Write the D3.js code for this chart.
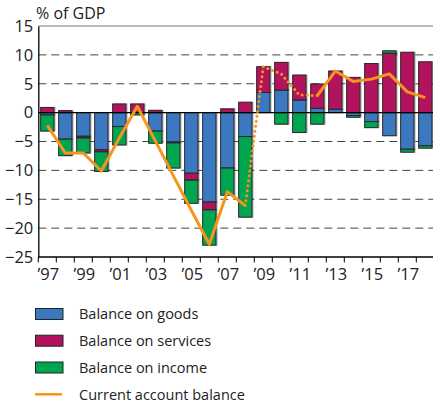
<!DOCTYPE html>
<html>
<head>
<meta charset="utf-8">
<script src="https://cdn.jsdelivr.net/npm/d3@7"></script>
<style>
  body { margin: 0; background: #fff; }
  svg { display: block; }
  text { font-family: "Open Sans", sans-serif; fill: #222; }
</style>
</head>
<body>
<svg id="chart" width="433" height="408"></svg>
<script>
const years = [1997,1998,1999,2000,2001,2002,2003,2004,2005,2006,2007,2008,2009,2010,2011,2012,2013,2014,2015,2016,2017,2018];
const goods    = [-0.4,-4.6,-4.1,-6.45,-2.4,0,-3.2,-5.1,-10.5,-15.5,-9.6,-4.15,3.5,3.9,2.2,0.75,0.6,-0.5,-1.55,-4.0,-6.35,-5.75];
const services = [0.9,0.35,-0.3,-0.35,1.5,1.5,0.4,-0.15,-1.2,-1.35,0.65,1.8,4.45,4.8,4.3,4.2,6.6,6.1,8.5,10.3,10.45,8.8];
const income   = [-2.8,-2.85,-2.6,-3.4,-3.2,-0.4,-2.1,-4.35,-4.0,-6.1,-4.7,-13.95,0,-2.0,-3.45,-2.0,0,-0.3,-1.05,0.4,-0.5,-0.4];
const currentAccount = [-2.2,-7.0,-7.0,-10.1,-4.4,1.1,-4.9,-10.9,-16.9,-22.8,-13.7,-16.1,7.95,6.7,3.05,2.95,7.2,5.4,5.8,6.7,3.6,2.6];
const dottedFrom = 2008, dottedTo = 2012;
const yTicks = [-25,-20,-15,-10,-5,0,5,10,15];
const xLabelYears = [1997,1999,2001,2003,2005,2007,2009,2011,2013,2015,2017];
const seriesNames = ["Balance on goods","Balance on services","Balance on income"];
const lineName = "Current account balance";
const yTitle = "% of GDP";

const colors = {goods:"#3a78c0", services:"#b3135c", income:"#00a550", line:"#f7941d"};
const keys = ["goods","services","income"];

const svg = d3.select("#chart");
const pLeft = 38.3, pRight = 434.3, pTop = 26, pBottom = 257;

const x = d3.scaleBand().domain(years).range([pLeft, pRight]).paddingInner(0.26).paddingOuter(0.13);
const y = d3.scaleLinear().domain([-25, 15]).range([pBottom, pTop]);

// gridlines
svg.append("g").selectAll("line").data(yTicks.filter(v => v !== 0 && v !== 15 && v !== -25)).join("line")
  .attr("x1", pLeft).attr("x2", 433).attr("y1", d => y(d)).attr("y2", d => y(d))
  .attr("stroke", "#444").attr("stroke-width", 1).attr("stroke-dasharray", "8,5");
svg.append("line").attr("x1", pLeft).attr("x2", 433).attr("y1", y(15)).attr("y2", y(15))
  .attr("stroke", "#777").attr("stroke-width", 1);

// stacked bars
const table = years.map((yr, i) => ({year: yr, goods: goods[i], services: services[i], income: income[i]}));
const stack = d3.stack().keys(keys).offset(d3.stackOffsetDiverging)(table);

const barG = svg.append("g");
stack.forEach(layer => {
  barG.append("g").selectAll("rect").data(layer).join("rect")
    .attr("x", d => x(d.data.year))
    .attr("width", x.bandwidth())
    .attr("y", d => y(Math.max(d[0], d[1])))
    .attr("height", d => Math.abs(y(d[0]) - y(d[1])))
    .attr("fill", colors[layer.key])
    .attr("stroke", "#2a2a2a").attr("stroke-width", 1)
    .style("filter", "drop-shadow(1px 0px 0.6px rgba(0,0,0,0.35))");
});

// zero line
svg.append("line").attr("x1", pLeft).attr("x2", 433).attr("y1", y(0)).attr("y2", y(0))
  .attr("stroke", "#000").attr("stroke-width", 1.2);

// axes
const yAxis = d3.axisLeft(y).tickValues(yTicks).tickSize(0).tickPadding(5);
const gy = svg.append("g").attr("transform", `translate(${pLeft},0)`).call(yAxis);
gy.select(".domain").attr("stroke", "#000").attr("stroke-width", 1.3);
gy.selectAll("text").style("font-size", "16.5px").attr("fill", "#222").attr("font-family", "Open Sans");

const gx = svg.append("g").attr("transform", `translate(0,${pBottom})`);
gx.append("line").attr("x1", pLeft).attr("x2", 433).attr("stroke", "#000").attr("stroke-width", 1.3);
const boundaries = years.map(yr => x(yr) - x.step() * x.paddingInner() / 2).concat([x(2018) + x.bandwidth() + x.step()*x.paddingInner()/2]);
gx.selectAll("line.tick").data(boundaries).join("line").attr("class", "tick")
  .attr("x1", d => d).attr("x2", d => d).attr("y1", 0).attr("y2", 5.5)
  .attr("stroke", "#000").attr("stroke-width", 1);
gx.selectAll("text").data(xLabelYears).join("text")
  .attr("x", d => x(d) + x.bandwidth() / 2 + 1)
  .attr("y", 22.5)
  .attr("text-anchor", "middle")
  .style("font-size", "16.5px")
  .text(d => "\u2019" + String(d).slice(2));

// y title
svg.append("text").attr("x", 36).attr("y", 19).style("font-size", "16px").text(yTitle);

// current account line
const pts = years.map((yr, i) => ({year: yr, v: currentAccount[i]}));
const line = d3.line().x(d => x(d.year) + x.bandwidth() / 2).y(d => y(d.v));
svg.append("path").datum(pts.filter(d => d.year <= dottedFrom))
  .attr("d", line).attr("fill", "none").attr("stroke", colors.line).attr("stroke-width", 3).attr("stroke-linejoin", "round");
svg.append("path").datum(pts.filter(d => d.year >= dottedFrom && d.year <= dottedTo))
  .attr("d", line).attr("fill", "none").attr("stroke", colors.line).attr("stroke-width", 3)
  .attr("stroke-dasharray", "0,5").attr("stroke-linecap", "round");
svg.append("path").datum(pts.filter(d => d.year >= dottedTo))
  .attr("d", line).attr("fill", "none").attr("stroke", colors.line).attr("stroke-width", 3).attr("stroke-linejoin", "round");

// legend
const legend = svg.append("g");
const rowsY = [314, 340.7, 367.5, 394.3];
keys.forEach((k, i) => {
  legend.append("rect").attr("x", 35.5).attr("y", rowsY[i] - 5.5).attr("width", 27.5).attr("height", 11)
    .attr("fill", colors[k]).attr("stroke", "#222").attr("stroke-width", 1);
  legend.append("text").attr("x", 79).attr("y", rowsY[i]).attr("dy", "0.36em").style("font-size", "14.5px").text(seriesNames[i]);
});
legend.append("line").attr("x1", 35).attr("x2", 62).attr("y1", rowsY[3]).attr("y2", rowsY[3])
  .attr("stroke", colors.line).attr("stroke-width", 2.5);
legend.append("text").attr("x", 79).attr("y", rowsY[3]).attr("dy", "0.36em").style("font-size", "14.5px").text(lineName);
</script>
</body>
</html>
